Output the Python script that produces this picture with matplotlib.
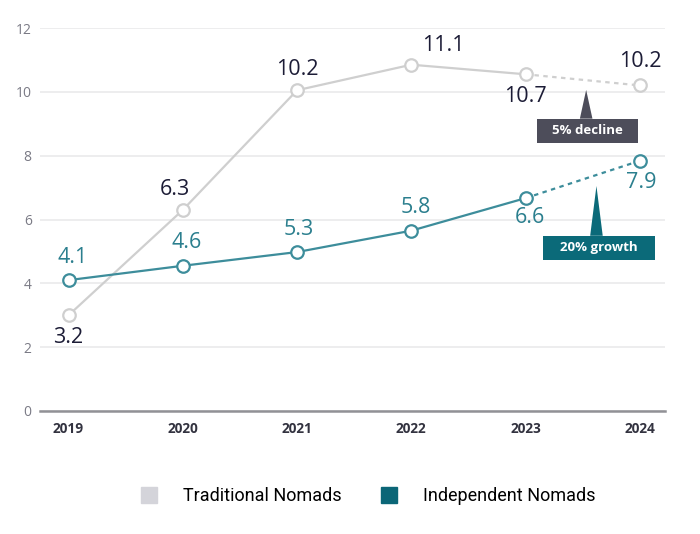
import matplotlib
matplotlib.use("Agg")
import matplotlib.pyplot as plt
from matplotlib.patches import Polygon
from matplotlib.lines import Line2D

years = ["2019", "2020", "2021", "2022", "2023", "2024"]
# plotted positions
traditional = [3.0, 6.3, 10.05, 10.85, 10.55, 10.2]
independent = [4.1, 4.55, 4.98, 5.65, 6.67, 7.84]
# value labels as printed
traditional_labels = ["3.2", "6.3", "10.2", "11.1", "10.7", "10.2"]
independent_labels = ["4.1", "4.6", "5.3", "5.8", "6.6", "7.9"]

GREY_LINE = "#cfcfcf"
TEAL_LINE = "#3d8d9b"
TEAL_TEXT = "#2b7f8e"
NAVY_TEXT = "#1c1c36"
DECLINE_BOX = "#4d4d5a"
GROWTH_BOX = "#0b6a79"

plt.rcParams["font.family"] = ["Open Sans", "DejaVu Sans"]

fig = plt.figure(figsize=(7.0, 5.34), dpi=100)
ax = fig.add_axes([40 / 700, 1 - 411 / 534, 625 / 700, 383 / 534])

x = list(range(len(years)))

# grey series: solid to 2023, dotted forecast to 2024
ax.plot(x[:5], traditional[:5], color=GREY_LINE, lw=1.6, zorder=3)
ax.plot(x[4:], traditional[4:], color=GREY_LINE, lw=1.6, ls=(0, (2, 2)), zorder=3)
ax.plot(x, traditional, ls="none", marker="o", ms=9, mfc="white",
        mec=GREY_LINE, mew=1.6, zorder=4)

# teal series
ax.plot(x[:5], independent[:5], color=TEAL_LINE, lw=1.6, zorder=3)
ax.plot(x[4:], independent[4:], color=TEAL_LINE, lw=1.6, ls=(0, (2, 2)), zorder=3)
ax.plot(x, independent, ls="none", marker="o", ms=9, mfc="white",
        mec=TEAL_LINE, mew=1.6, zorder=4)

# value labels (offset in points: dx, dy)
trad_offsets = [(0, -16), (-6, 14.5), (0, 15), (23, 14), (0, -16), (0, 17)]
ind_offsets = [(3, 16.5), (3, 17), (1, 16), (3, 16.5), (3, -14), (1, -16)]
for i in x:
    dx, dy = trad_offsets[i]
    ax.annotate(traditional_labels[i], (x[i], traditional[i]), xytext=(dx, dy),
                textcoords="offset points", ha="center", va="center",
                fontsize=15.5, color=NAVY_TEXT, zorder=5)
    dx, dy = ind_offsets[i]
    ax.annotate(independent_labels[i], (x[i], independent[i]), xytext=(dx, dy),
                textcoords="offset points", ha="center", va="center",
                fontsize=15.5, color=TEAL_TEXT, zorder=5)

# callout boxes with pointers
def callout(text, cx, cy, half_w, half_h, tip_x, tip_y, color):
    ax.text(cx, cy, text, ha="center", va="center", fontsize=9.5,
            color="white", fontweight="bold", zorder=6)
    ax.add_patch(Polygon([(cx - half_w, cy - half_h), (cx + half_w, cy - half_h),
                          (cx + half_w, cy + half_h), (cx - half_w, cy + half_h)],
                         closed=True, fc=color, ec="none", zorder=5))
    top = cy + half_h
    ax.add_patch(Polygon([(tip_x - 0.055, top), (tip_x + 0.055, top),
                          (tip_x, tip_y)],
                         closed=True, fc=color, ec="none", zorder=5))

callout("5% decline", 4.54, 8.78, 0.44, 0.38, 4.53, 10.06, DECLINE_BOX)
callout("20% growth", 4.64, 5.11, 0.49, 0.38, 4.62, 7.05, GROWTH_BOX)

ax.set_xlim(-0.25, 5.22)
ax.set_ylim(0, 12)
ax.set_xticks(x)
ax.set_xticklabels(years, fontsize=9.8, fontweight="bold", color="#333340")
ax.set_yticks(range(0, 13, 2))
ax.set_yticklabels([str(v) for v in range(0, 13, 2)], fontsize=10, color="#7a7a85")
ax.tick_params(axis="both", length=0)
ax.tick_params(axis="x", pad=8)
ax.tick_params(axis="y", pad=6)
ax.grid(axis="y", color="#e8e8ea", lw=1.1, zorder=0)
ax.set_axisbelow(True)
for side in ["top", "right", "left"]:
    ax.spines[side].set_visible(False)
ax.spines["bottom"].set_color("#919196")
ax.spines["bottom"].set_linewidth(1.8)

handles = [
    Line2D([], [], ls="none", marker="s", ms=11, mfc="#d4d4da", mec="#d4d4da"),
    Line2D([], [], ls="none", marker="s", ms=11, mfc="#0b6677", mec="#0b6677"),
]
fig.legend(handles, ["Traditional Nomads", "Independent Nomads"],
           loc="center", bbox_to_anchor=(363 / 700, 1 - 496 / 534), ncol=2,
           frameon=False, handletextpad=0.9, columnspacing=1.6,
           prop={"family": "Roboto", "size": 13})

fig.savefig("out.png", dpi=100, facecolor="white")
